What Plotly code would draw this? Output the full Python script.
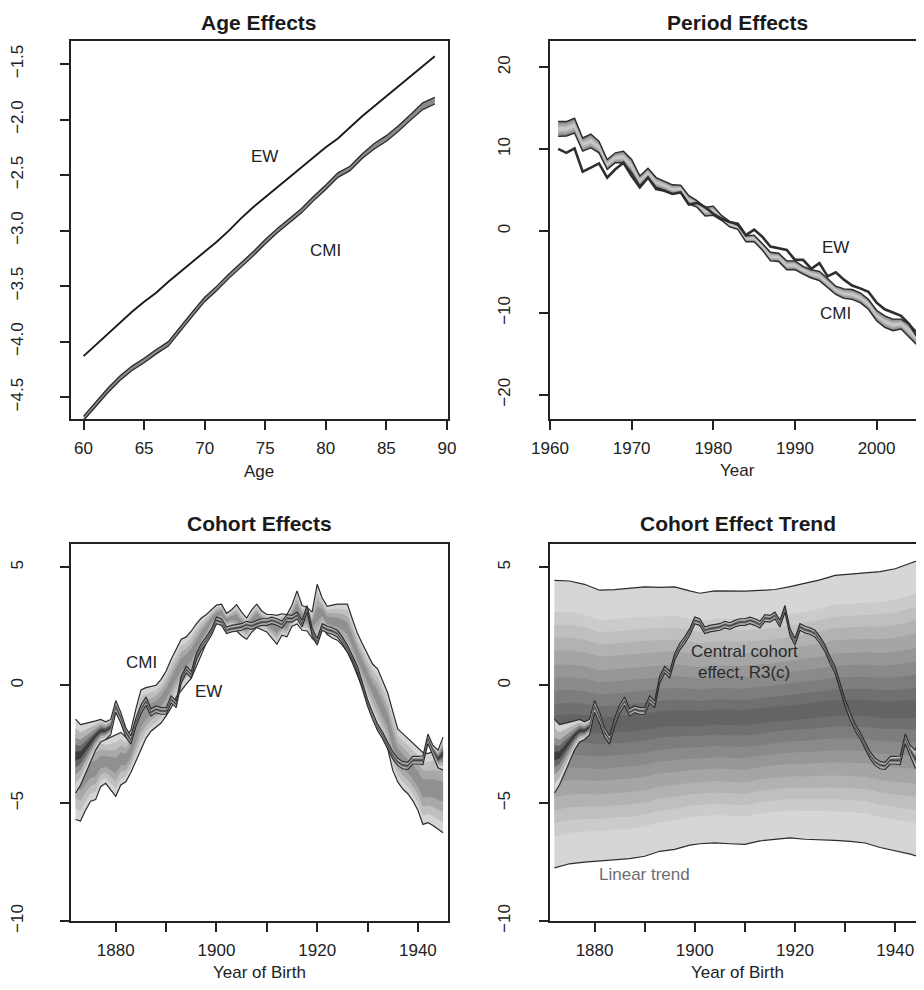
import plotly.graph_objects as go

W, H = 924, 990
FONT = "Liberation Sans, Arial, Helvetica, sans-serif"

# ---------------- Panel 1: Age effects ----------------
ages = list(range(60, 90))
ew_age = [-4.13, -4.03, -3.93, -3.83, -3.73, -3.64, -3.56, -3.46, -3.37, -3.28,
          -3.19, -3.10, -3.00, -2.89, -2.79, -2.70, -2.61, -2.52, -2.43, -2.34,
          -2.25, -2.17, -2.07, -1.97, -1.88, -1.79, -1.70, -1.61, -1.52, -1.43]
cmi_age_upper = [-4.67, -4.54, -4.42, -4.31, -4.22, -4.15, -4.07, -4.00, -3.86, -3.73,
                 -3.60, -3.50, -3.39, -3.29, -3.19, -3.08, -2.98, -2.89, -2.80, -2.69,
                 -2.59, -2.48, -2.42, -2.31, -2.215, -2.145, -2.055, -1.955, -1.85, -1.80]
cmi_age_lower = [-4.71, -4.58, -4.46, -4.35, -4.26, -4.19, -4.11, -4.04, -3.90, -3.77,
                 -3.64, -3.54, -3.43, -3.33, -3.23, -3.12, -3.02, -2.93, -2.84, -2.73,
                 -2.63, -2.52, -2.46, -2.35, -2.265, -2.195, -2.105, -2.005, -1.91, -1.86]

# ---------------- Panel 2: Period effects ----------------
years = list(range(1961, 2006))
ew_period = [10.03, 9.55, 10.1, 7.26, 7.74, 8.26, 6.53, 7.54, 8.34, 6.73,
             5.33, 6.53, 5.13, 4.92, 4.52, 4.72, 3.24, 3.44, 2.91, 2.11,
             1.51, 1.11, 0.9, -0.5, 0.18, -0.7, -1.9, -2.11, -2.31, -3.52,
             -3.52, -4.6, -3.92, -5.53, -5.04, -5.93, -6.65, -7.0, -7.41, -8.74,
             -9.55, -9.95, -10.35, -11.36, -12.9]
cmi_period_upper = [13.37, 13.37, 13.77, 11.36, 11.84, 10.95, 8.74, 9.55, 9.75, 8.74,
                    6.73, 7.66, 6.53, 6.13, 5.65, 5.61, 4.32, 3.72, 2.91, 3.04,
                    1.91, 1.19, 0.7, -0.58, -0.5, -1.51, -2.59, -2.71, -3.64, -3.64,
                    -4.32, -4.72, -4.92, -5.8, -6.73, -7.06, -7.14, -7.54, -8.34, -9.67,
                    -10.35, -10.75, -10.75, -11.36, -12.36]
cmi_period_lower = [11.56, 11.6, 11.96, 9.75, 10.15, 9.55, 7.54, 8.34, 8.34, 7.14,
                    5.53, 6.53, 5.33, 5.0, 4.52, 4.72, 3.32, 2.91, 1.83, 1.91,
                    1.31, 0.5, 0.22, -1.31, -1.31, -2.31, -3.64, -3.72, -4.72, -4.72,
                    -5.25, -5.73, -6.05, -6.93, -7.74, -8.22, -8.34, -8.74, -9.55, -10.95,
                    -11.76, -12.16, -11.96, -12.96, -13.97]

# ---------------- Panels 3 & 4: Cohort effects ----------------
cohorts = list(range(1872, 1946))
cmi_coh_upper = [-2.1, -2.3, -2.3, -2.3, -2.2, -2.2, -2.3, -2.2, -2.1, -2.0,
                 -2.2, -1.9, -1.0, -0.2, -0.1, -0.05, 0.0, 0.25, 0.6, 1.1,
                 1.5, 1.95, 2.05, 2.3, 2.6, 2.85, 3.0, 3.2, 3.4, 3.44,
                 3.05, 3.2, 3.42, 3.1, 2.85, 3.2, 3.44, 3.15, 3.0, 3.0,
                 2.96, 3.03, 3.0, 3.4, 4.0, 3.38, 3.3, 3.1, 4.28, 3.7,
                 3.35, 3.4, 3.44, 3.44, 3.44, 2.8, 2.2, 1.75, 1.3, 0.9,
                 0.7, 0.2, -0.32, -1.1, -1.85, -2.05, -2.25, -2.45, -2.65, -2.85,
                 -2.9, -2.8, -2.8, -2.76]
cmi_coh_lower = [-5.69, -5.76, -5.3, -4.92, -4.85, -4.3, -4.16, -4.45, -4.71, -4.23,
                 -4.09, -3.7, -3.2, -2.7, -2.25, -1.95, -1.79, -1.6, -1.3, -0.95,
                 -0.5, -0.2, 0.05, 0.3, 0.79, 1.35, 1.8, 2.35, 2.6, 2.7,
                 2.45, 2.5, 2.3, 2.1, 1.95, 2.25, 2.45, 2.35, 2.26, 2.0,
                 1.74, 2.12, 2.05, 2.5, 2.6, 2.33, 2.3, 2.0, 1.77, 2.47,
                 2.15, 2.0, 1.91, 1.7, 1.4, 0.95, 0.4, -0.1, -0.65, -1.2,
                 -1.75, -2.25, -2.69, -3.6, -4.1, -4.4, -4.6, -4.9, -5.3, -5.9,
                 -5.83, -5.95, -6.1, -6.25]
ew_coh_upper = [-1.44, -1.67, -1.62, -1.58, -1.51, -1.45, -1.55, -1.45, -0.65, -1.15,
                -1.8, -2.15, -1.4, -0.85, -0.5, -1.0, -0.88, -0.95, -0.95, -0.45,
                -0.67, 0.38, 0.8, 0.59, 1.35, 1.77, 2.05, 2.4, 2.89, 2.82,
                2.47, 2.54, 2.57, 2.61, 2.71, 2.65, 2.75, 2.82, 2.82, 2.89,
                2.82, 2.71, 2.99, 2.96, 3.1, 2.75, 3.38, 2.4, 1.98, 2.61,
                2.5, 2.44, 2.33, 2.05, 1.7, 1.21, 0.8, 0.1, -0.6, -1.16,
                -1.65, -1.99, -2.41, -2.83, -3.1, -3.24, -3.27, -3.02, -3.02, -3.0,
                -2.07, -2.55, -2.75, -2.2]
ew_coh_lower = [-4.57, -4.23, -3.74, -3.25, -2.75, -2.4, -2.3, -2.1, -1.15, -1.6,
                -2.2, -2.5, -1.75, -1.2, -0.85, -1.3, -1.16, -1.23, -1.23, -0.75,
                -0.95, 0.1, 0.52, 0.31, 1.07, 1.49, 1.77, 2.12, 2.61, 2.54,
                2.19, 2.26, 2.29, 2.33, 2.43, 2.37, 2.47, 2.54, 2.54, 2.61,
                2.54, 2.43, 2.71, 2.68, 2.82, 2.47, 3.1, 2.12, 1.7, 2.33,
                2.22, 2.16, 2.05, 1.77, 1.42, 0.93, 0.52, -0.18, -0.88, -1.44,
                -1.93, -2.27, -2.69, -3.11, -3.4, -3.54, -3.57, -3.34, -3.34, -3.36,
                -2.47, -2.97, -3.5, -3.6]

trend_years = [1872, 1875, 1878, 1881, 1884, 1887, 1890, 1893, 1896, 1899, 1901, 1904, 1907,
               1910, 1913, 1916, 1919, 1922, 1925, 1928, 1931, 1934, 1937, 1940, 1943, 1945]
trend_upper = [4.45, 4.42, 4.28, 4.03, 4.05, 4.12, 4.17, 4.15, 4.17, 4.0, 3.9, 4.0, 3.98,
               3.99, 4.02, 4.06, 4.18, 4.32, 4.47, 4.66, 4.71, 4.78, 4.82, 4.94, 5.16, 5.33]
trend_lower = [-7.74, -7.57, -7.5, -7.45, -7.37, -7.35, -7.25, -7.04, -6.96, -6.78, -6.72, -6.68, -6.72,
               -6.75, -6.6, -6.52, -6.47, -6.53, -6.54, -6.58, -6.62, -6.69, -6.88, -7.02, -7.16, -7.29]

# ---------------- helpers ----------------
fig = go.Figure()


def poly(x, top, bot, color, xa, ya):
    fig.add_trace(go.Scatter(x=list(x) + list(x)[::-1], y=list(top) + list(bot)[::-1],
                             fill="toself", fillcolor=color, mode="lines",
                             line=dict(width=0, color=color), hoverinfo="skip",
                             showlegend=False, xaxis=xa, yaxis=ya))


def line(x, y, color, width, xa, ya):
    fig.add_trace(go.Scatter(x=x, y=y, mode="lines", line=dict(color=color, width=width),
                             hoverinfo="skip", showlegend=False, xaxis=xa, yaxis=ya))


def fan(x, up, lo, fracs, colors, xa, ya):
    c = [(u + l) / 2 for u, l in zip(up, lo)]
    h = [(u - l) / 2 for u, l in zip(up, lo)]
    for f, col in zip(fracs, colors):
        poly(x, [ci + f * hi for ci, hi in zip(c, h)], [ci - f * hi for ci, hi in zip(c, h)], col, xa, ya)


EDGE = "#2b2b2b"

# Panel 1
poly(ages, cmi_age_upper, cmi_age_lower, "#8a8a8a", "x", "y")
line(ages, cmi_age_upper, EDGE, 1.3, "x", "y")
line(ages, cmi_age_lower, EDGE, 1.3, "x", "y")
line(ages, ew_age, "#1a1a1a", 1.9, "x", "y")

# Panel 2
fan(years, cmi_period_upper, cmi_period_lower, [1.0, 0.75, 0.5, 0.25],
    ["#858585", "#9c9c9c", "#b3b3b3", "#c8c8c8"], "x2", "y2")
line(years, cmi_period_upper, EDGE, 1.4, "x2", "y2")
line(years, cmi_period_lower, EDGE, 1.4, "x2", "y2")
line(years, ew_period, "#2e2e2e", 2.6, "x2", "y2")

# Panel 3
fan(cohorts, cmi_coh_upper, cmi_coh_lower, [1.0, 0.75, 0.5, 0.25],
    ["#d4d4d4", "#bfbfbf", "#a8a8a8", "#909090"], "x3", "y3")
line(cohorts, cmi_coh_upper, EDGE, 1.2, "x3", "y3")
line(cohorts, cmi_coh_lower, EDGE, 1.2, "x3", "y3")
fan(cohorts, ew_coh_upper, ew_coh_lower, [1.0, 0.75, 0.5, 0.3, 0.12],
    ["#d4d4d4", "#b4b4b4", "#8e8e8e", "#666666", "#3c3c3c"], "x3", "y3")
line(cohorts, ew_coh_upper, EDGE, 1.2, "x3", "y3")
line(cohorts, ew_coh_lower, EDGE, 1.2, "x3", "y3")

# Panel 4
trend_fracs = [1.0, 0.78, 0.69, 0.6, 0.51, 0.41, 0.32, 0.23, 0.14, 0.06]
trend_cols = ["#d6d6d6", "#cbcbcb", "#bfbfbf", "#b2b2b2", "#a5a5a5",
              "#979797", "#8a8a8a", "#7d7d7d", "#707070", "#646464"]
fan(trend_years, trend_upper, trend_lower, trend_fracs, trend_cols, "x4", "y4")
line(trend_years, trend_upper, EDGE, 1.2, "x4", "y4")
line(trend_years, trend_lower, EDGE, 1.2, "x4", "y4")
fan(cohorts, ew_coh_upper, ew_coh_lower, [1.0, 0.75, 0.5, 0.3, 0.12],
    ["#d4d4d4", "#b4b4b4", "#8e8e8e", "#666666", "#3c3c3c"], "x4", "y4")
line(cohorts, ew_coh_upper, EDGE, 1.2, "x4", "y4")
line(cohorts, ew_coh_lower, EDGE, 1.2, "x4", "y4")

# ---------------- axes ----------------
def px_x(p):
    return p / W


def px_y(p):
    return 1 - p / H


base = dict(showline=True, linecolor="#222", linewidth=1.6, ticks="outside", ticklen=9,
            tickwidth=1.5, tickcolor="#222", showgrid=False, zeroline=False,
            tickfont=dict(family=FONT, size=17, color="#222"))
xbase = dict(base, ticklabelstandoff=4)
yleft = dict(base, tickangle=-90, ticklabelstandoff=30)
yright = dict(base, tickangle=-90, ticklabelstandoff=22)

coh_ticks = [1880, 1890, 1900, 1910, 1920, 1930, 1940]
coh_text = ["1880", "", "1900", "", "1920", "", "1940"]

fig.update_layout(
    width=W, height=H, margin=dict(l=0, r=0, t=0, b=0),
    paper_bgcolor="white", plot_bgcolor="white", showlegend=False,
    xaxis=dict(xbase, domain=[px_x(44.3), px_x(433)], range=[58.96, 90.08],
               tickvals=[60, 65, 70, 75, 80, 85, 90], anchor="y", mirror=True),
    yaxis=dict(yleft, domain=[px_y(416), px_y(33)], range=[-4.696, -1.289],
               tickvals=[-4.5, -4.0, -3.5, -3.0, -2.5, -2.0, -1.5], tickformat=".1f",
               anchor="x", mirror=True),
    xaxis2=dict(xbase, domain=[px_x(538), 1.0], range=[1959.96, 2005.81],
                tickvals=[1960, 1970, 1980, 1990, 2000], anchor="y2", mirror=True),
    yaxis2=dict(yright, domain=[px_y(416), px_y(33)], range=[-22.94, 23.25],
                tickvals=[-20, -10, 0, 10, 20], anchor="x2", mirror=False),
    xaxis3=dict(xbase, domain=[px_x(44.3), px_x(432.7)], range=[1871.1, 1945.9],
                tickvals=coh_ticks, ticktext=coh_text, anchor="y3", mirror=True),
    yaxis3=dict(yleft, domain=[px_y(924.3), px_y(542.3)], range=[-10, 6],
                tickvals=[-10, -5, 0, 5], anchor="x3", mirror=True),
    xaxis4=dict(xbase, domain=[px_x(538), 1.0], range=[1871.05, 1945.75],
                tickvals=coh_ticks, ticktext=coh_text, anchor="y4", mirror=True),
    yaxis4=dict(yright, domain=[px_y(924.3), px_y(542.3)], range=[-10, 6],
                tickvals=[-10, -5, 0, 5], anchor="x4", mirror=False),
)

# ---------------- text ----------------
def txt(x, y, s, size=17, color="#222", bold=False):
    fig.add_annotation(x=px_x(x), y=px_y(y), xref="paper", yref="paper",
                       text=("<b>%s</b>" % s) if bold else s, showarrow=False,
                       xanchor="center", yanchor="middle",
                       font=dict(family=FONT, size=size, color=color))

txt(238.5, 15, "Age Effects", 21, "#1a1a1a", True)
txt(731.7, 15, "Period Effects", 21, "#1a1a1a", True)
txt(238.5, 522.3, "Cohort Effects", 21, "#1a1a1a", True)
txt(731.7, 522.3, "Cohort Effect Trend", 21, "#1a1a1a", True)

txt(238, 469, "Age")
txt(732, 468.5, "Year")
txt(238.3, 976.5, "Year of Birth")
txt(732, 976.5, "Year of Birth")

txt(244.3, 150, "EW")
txt(306.7, 245.7, "CMI")
txt(832.7, 242.7, "EW")
txt(832.7, 309.3, "CMI")
txt(116.7, 662.7, "CMI")
txt(185.7, 692.3, "EW")
txt(738.7, 651.7, "Central cohort", 17, "#2a2a2a")
txt(738.7, 672.7, "effect, R3(c)", 17, "#2a2a2a")
txt(636, 876.7, "Linear trend", 17, "#6e6e6e")

fig.write_html("out.html")
